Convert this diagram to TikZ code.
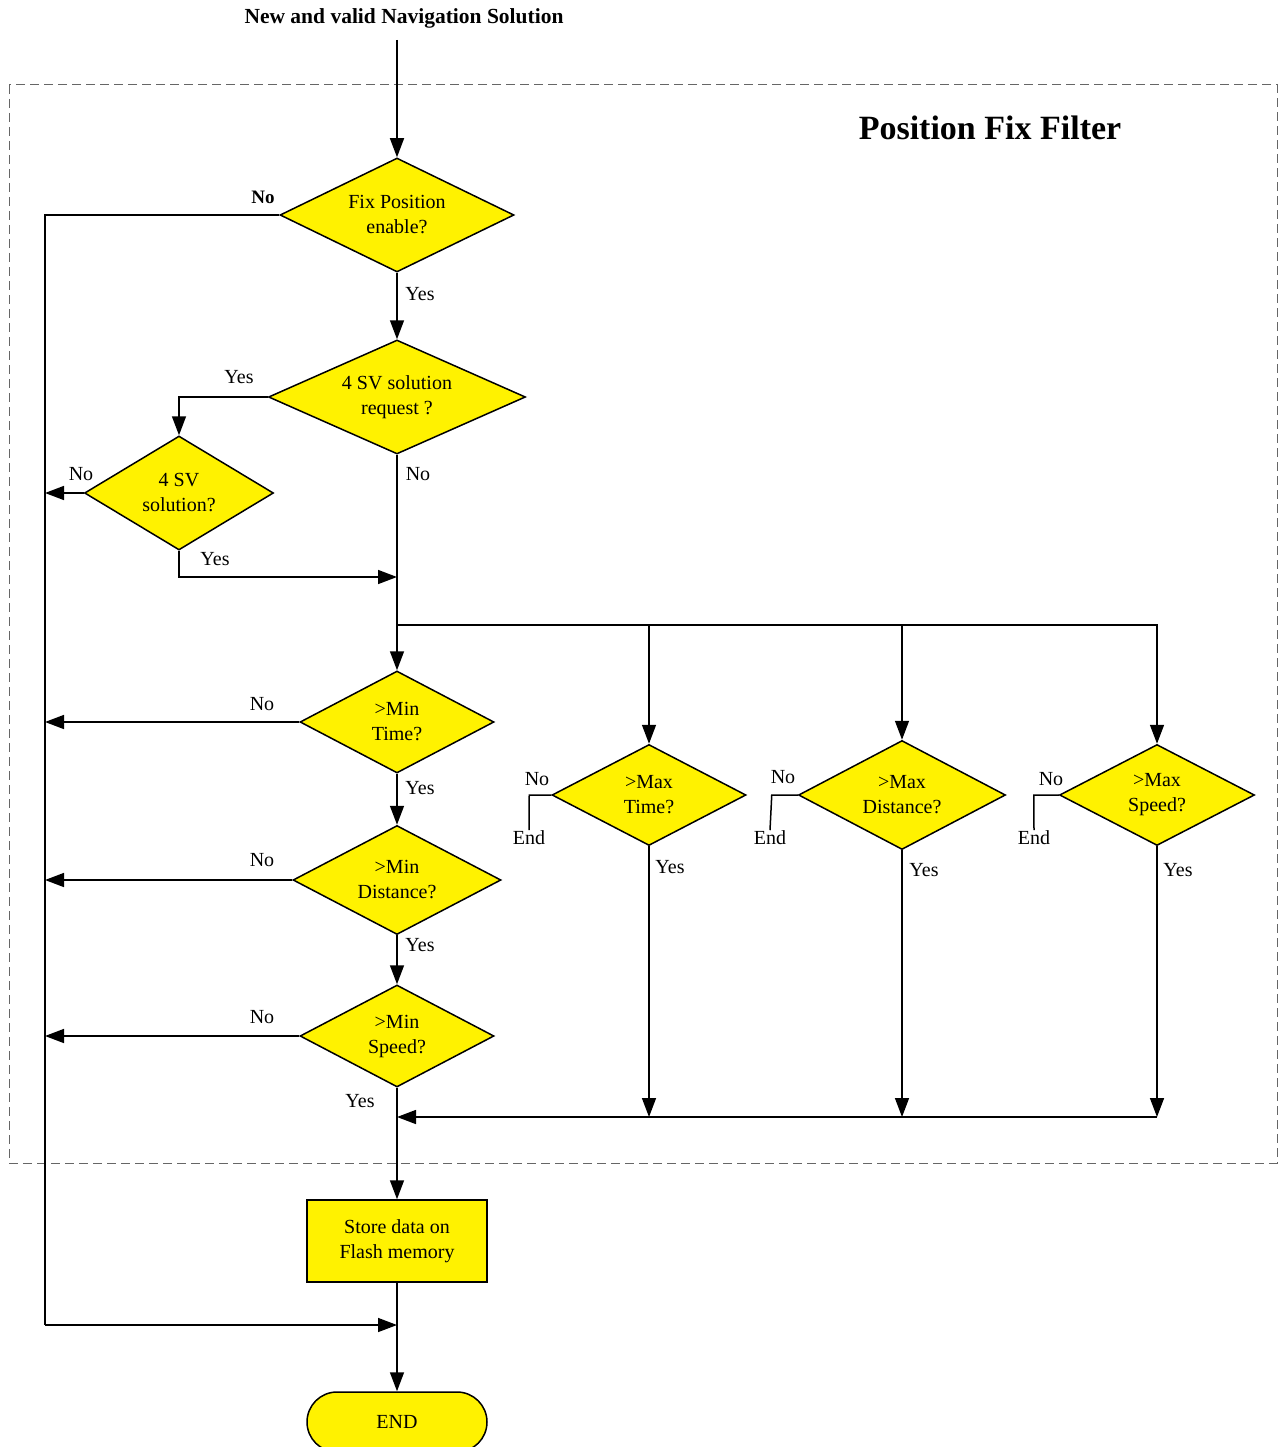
\documentclass[tikz,border=0pt]{standalone}
\usepackage{fontspec}
\setmainfont{Liberation Serif}
\usetikzlibrary{arrows.meta}
\usetikzlibrary{positioning}
\usetikzlibrary{shapes.geometric}
\tikzset{
	>={Triangle[length=19pt,width=14pt]},
	decision/.style={
		diamond,
		aspect=2,
		fill=yellow,
		draw=black,
		inner sep=0pt,
		align=center},
	block/.style={
		rectangle,
		fill=yellow,
		draw=black,
		minimum width=180pt,
		minimum height=82pt,
		align=center},
	term/.style={
		rectangle,
		rounded corners=30pt,
		fill=yellow,
		draw=black,
		minimum width=180pt,
		minimum height=60pt},
	lab/.style={inner sep=0pt},
	filterbox/.style={draw=gray!80!black, line width=1pt, dash pattern=on 9pt off 5pt},
}

\begin{document}
\begin{tikzpicture}
	[x=1pt, y=-1pt, line width=1.5pt,
	font=\fontsize{20}{25}\selectfont]
	\useasboundingbox (0,0) rectangle (1278,1447);
	
	% filter frame
	\draw[filterbox] (9,85) rectangle (1277,1163);
	\node[font=\fontsize{34}{40}\selectfont\bfseries] (title) at (990,128) {Position Fix Filter};
	\node[font=\fontsize{21.5}{24}\selectfont\bfseries] (input) at (404,18) {New and valid Navigation Solution};
	\coordinate (in) at (397,40);
	
	% decisions
	\node[decision, minimum width=234pt, minimum height=114pt] (fixpos) at (397,215) {Fix Position\\enable?};
	\node[decision, minimum width=257pt, minimum height=114pt] (svreq) at (397,397) {4 SV solution\\request ?};
	\node[decision, minimum width=189pt, minimum height=114pt] (svsol) at (179,493) {4 SV\\solution?};
	\node[decision, minimum width=194pt, minimum height=102pt] (mintime) at (397,722) {>Min\\Time?};
	\node[decision, minimum width=208pt, minimum height=109pt] (mindist) at (397,880) {>Min\\Distance?};
	\node[decision, minimum width=194pt, minimum height=102pt] (minspeed) at (397,1036) {>Min\\Speed?};
	\node[decision, minimum width=194pt, minimum height=101pt] (maxtime) at (649,795) {>Max\\Time?};
	\node[decision, minimum width=207pt, minimum height=109pt] (maxdist) at (902,795) {>Max\\Distance?};
	\node[decision, minimum width=195pt, minimum height=101pt] (maxspeed) at (1157,795) {>Max\\Speed?};
	\node[block] (store) at (397,1241) {Store data on\\Flash memory};
	\node[term] (fin) at (397,1422) {END};
	
	% junctions
	\coordinate (lt) at (45,215);
	\coordinate (lb) at (45,1325);
	\coordinate (join1) at (397,577);
	\coordinate (split) at (397,625);
	\coordinate (join2) at (397,1117);
	
	% labels
	\node[lab, font=\fontsize{19}{22}\selectfont\bfseries] (no0) at (263,197) {No};
	\node[lab] (yes0) at (420,294) {Yes};
	\node[lab] (yes1) at (239,377) {Yes};
	\node[lab] (no1) at (81,474) {No};
	\node[lab] (no2) at (418,474) {No};
	\node[lab] (yes2) at (215,559) {Yes};
	\node[lab] (no3) at (262,704) {No};
	\node[lab] (yes3) at (420,788) {Yes};
	\node[lab] (no4) at (262,860) {No};
	\node[lab] (yes4) at (420,945) {Yes};
	\node[lab] (no5) at (262,1017) {No};
	\node[lab] (yes5) at (360,1101) {Yes};
	\node[lab] (no6) at (537,779) {No};
	\node[lab] (no7) at (783,777) {No};
	\node[lab] (no8) at (1051,779) {No};
	\node[lab] (end6) at (529,838) {End};
	\node[lab] (end7) at (770,838) {End};
	\node[lab] (end8) at (1034,838) {End};
	\node[lab] (yes6) at (670,867) {Yes};
	\node[lab] (yes7) at (924,870) {Yes};
	\node[lab] (yes8) at (1178,870) {Yes};
	
	% connectors
	\draw[->] (in) -- (fixpos.north);
	\draw (fixpos.west) -- (lt) -- (lb);
	\draw[->] (lb) -- (store.south |- lb);
	\draw[->] (fixpos.south) -- (svreq.north);
	\draw[->] (svreq.west) -| (svsol.north);
	\draw[->] (svsol.west) -- (svsol.west -| lt);
	\draw[->] (svsol.south) |- (join1);
	\draw[->] (svreq.south) -- (mintime.north);
	\draw[->] (split) -| (maxspeed.north);
	\draw[->] (maxtime.north |- split) -- (maxtime.north);
	\draw[->] (maxdist.north |- split) -- (maxdist.north);
	\draw[->] (mintime.west) -- (mintime.west -| lt);
	\draw[->] (mintime.south) -- (mindist.north);
	\draw[->] (mindist.west) -- (mindist.west -| lt);
	\draw[->] (mindist.south) -- (minspeed.north);
	\draw[->] (minspeed.west) -- (minspeed.west -| lt);
	\draw[->] (minspeed.south) -- (store.north);
	\draw[->] (store.south) -- (fin.north);
	\draw[->] (maxtime.south) -- (maxtime.south |- join2);
	\draw[->] (maxdist.south) -- (maxdist.south |- join2);
	\draw[->] (maxspeed.south) -- (maxspeed.south |- join2);
	\draw[->] (maxspeed.south |- join2) -- (join2);
	\draw (maxtime.west) -- ++(-22,0) -- (end6.north);
	\draw (maxdist.west) -- ++(-26,0) -- (end7.north);
	\draw (maxspeed.west) -- ++(-25,0) -- (end8.north);
\end{tikzpicture}
\end{document}
